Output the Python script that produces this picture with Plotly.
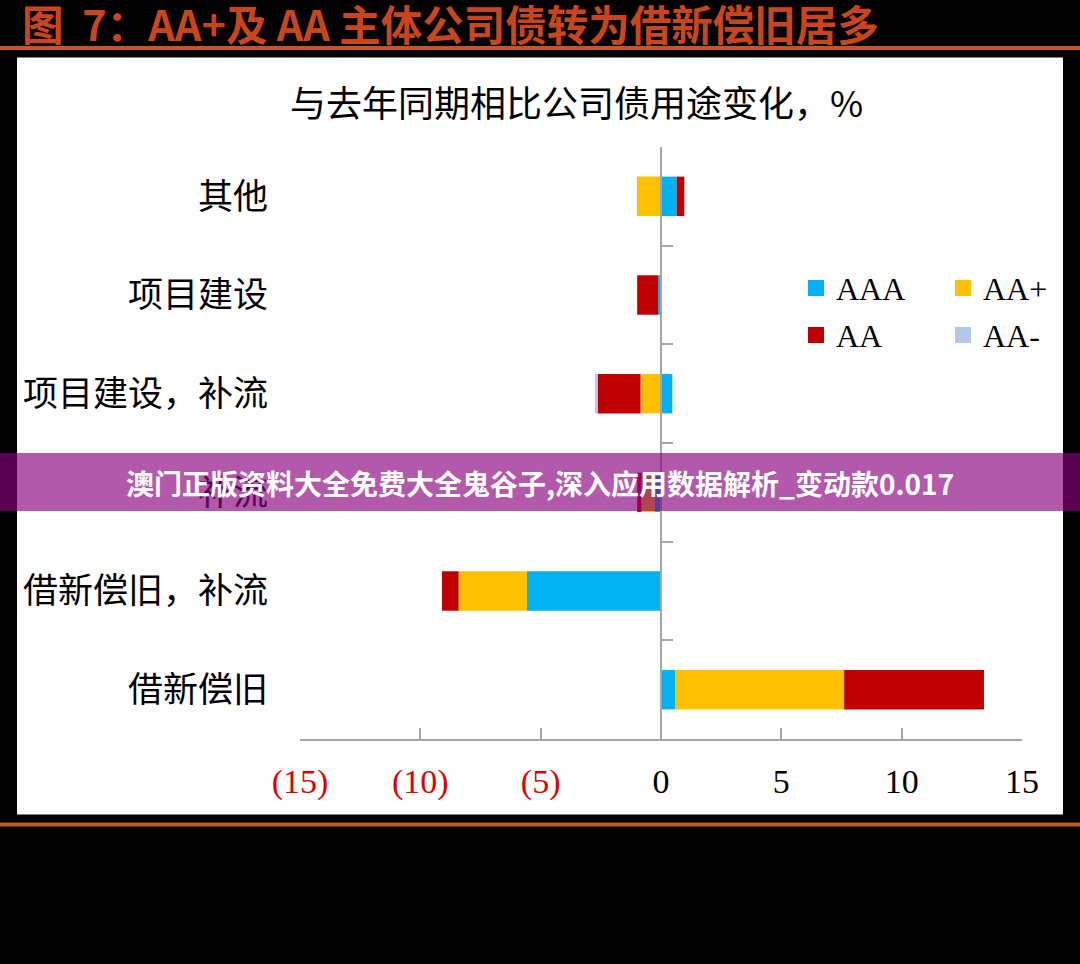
import plotly.graph_objects as go

# ---- data ----
categories = ["其他", "项目建设", "项目建设，补流", "补流", "借新偿旧，补流", "借新偿旧"]
aaa = [0.65, -0.12, 0.47, -0.25, -5.57, 0.60]
aa_plus = [-1.00, 0.0, -0.85, -0.56, -2.84, 7.01]
aa = [0.32, -0.87, -1.78, -0.18, -0.69, 5.81]
aa_minus = [0.0, 0.0, -0.11, 0.0, 0.0, 0.0]
series_names = ["AAA", "AA+", "AA", "AA-"]
series_colors = ["#00b0f0", "#ffc000", "#c00000", "#b4c7e7"]
xtick_vals = [-15, -10, -5, 0, 5, 10, 15]
xtick_text = ["(15)", "(10)", "(5)", "0", "5", "10", "15"]
boundary_vals = [0.5, 1.5, 2.5, 3.5, 4.5]

W, H = 1080, 964
L, R, T, B = 300, 1022, 146.6, 739.4


def px(xp):
    return (xp - L) / (R - L)


def py(yp):
    return (B - yp) / (B - T)


fig = go.Figure()
values = [aaa, aa_plus, aa, aa_minus]
for name, vals, col in zip(series_names, values, series_colors):
    fig.add_trace(go.Bar(
        y=categories, x=vals, orientation="h", name=name,
        marker=dict(color=col, line=dict(width=0)), width=0.4,
        showlegend=False,
    ))

# legend entries (square markers)
legend_ids = ["legend", "legend", "legend2", "legend2"]
for name, col, lg in zip(series_names, series_colors, legend_ids):
    fig.add_trace(go.Scatter(
        x=[None], y=[None], mode="markers", name=name, legend=lg,
        marker=dict(symbol="square", size=16, color=col),
    ))

# helper trace for the zero-line axis
fig.add_trace(go.Scatter(x=[None], y=[None], yaxis="y2", showlegend=False, hoverinfo="skip"))

red = "#e00000"
ticktext = [f'<span style="color:{red}">{t}</span>' if v < 0 else t
            for v, t in zip(xtick_vals, xtick_text)]

serif = "Liberation Serif, Times New Roman, serif"
cjk = "Noto Sans CJK SC"

legend_common = dict(
    orientation="h", xanchor="left", yanchor="middle",
    bgcolor="rgba(0,0,0,0)", font=dict(family=serif, size=32, color="black"),
    entrywidth=102, entrywidthmode="pixels", itemclick=False, itemdoubleclick=False,
)

fig.update_layout(
    width=W, height=H,
    paper_bgcolor="black", plot_bgcolor="white",
    margin=dict(l=L, r=W - R, t=T, b=H - B, pad=0, autoexpand=False),
    barmode="relative",
    xaxis=dict(
        range=[-15, 15], tickmode="array", tickvals=xtick_vals, ticktext=ticktext,
        ticks="inside", ticklen=11, tickwidth=2, tickcolor="#a6a6a6",
        showline=True, linecolor="#a6a6a6", linewidth=2,
        showgrid=False, zeroline=False,
        tickfont=dict(family=serif, size=34, color="black"),
        ticklabelstandoff=11,
    ),
    yaxis=dict(
        type="category", categoryorder="array", categoryarray=categories,
        range=[5.5, -0.5], showgrid=False, zeroline=False, showline=False,
        ticks="", tickfont=dict(family=cjk, size=35, color="black"),
        ticklabelstandoff=31,
    ),
    yaxis2=dict(
        overlaying="y", anchor="free", position=0.5, side="right",
        range=[5.5, -0.5], tickmode="array", tickvals=boundary_vals,
        ticks="outside", ticklen=11, tickwidth=2, tickcolor="#a6a6a6",
        showline=True, linecolor="#a6a6a6", linewidth=2,
        showticklabels=False, showgrid=False, zeroline=False,
    ),
    legend=dict(x=px(796), y=py(288), **legend_common),
    legend2=dict(x=px(796), y=py(335), **legend_common),
    showlegend=True,
)

shapes = [
    # white panel
    dict(type="rect", xref="paper", yref="paper", x0=px(17), x1=px(1063), y0=py(815), y1=py(57),
         fillcolor="white", line=dict(width=0), layer="below"),
    # top rule
    dict(type="line", xref="paper", yref="paper", x0=px(0), x1=px(1080), y0=py(47.5), y1=py(47.5),
         line=dict(color="#c8561a", width=4), layer="above"),
    # bottom rule
    dict(type="line", xref="paper", yref="paper", x0=px(0), x1=px(1080), y0=py(825), y1=py(825),
         line=dict(color="#b95f23", width=4), layer="above"),
    # banner overlay
    dict(type="rect", xref="paper", yref="paper", x0=px(0), x1=px(1080), y0=py(511), y1=py(453),
         fillcolor="rgba(136,0,127,0.65)", line=dict(width=0), layer="above"),
]
fig.update_layout(shapes=shapes)

annotations = [
    dict(text="<b>图  7：AA+及 AA 主体公司债转为借新偿旧居多</b>", xref="paper", yref="paper",
         x=px(20), y=py(22.5), xanchor="left", yanchor="middle", showarrow=False,
         font=dict(family=cjk, size=41.5, color="#c9461c")),
    dict(text="与去年同期相比公司债用途变化，%", xref="paper", yref="paper",
         x=px(576), y=py(101), xanchor="center", yanchor="middle", showarrow=False,
         font=dict(family=cjk, size=36, color="black")),
    dict(text="<b>澳门正版资料大全免费大全鬼谷子,深入应用数据解析_变动款0.017</b>", xref="paper", yref="paper",
         x=px(540), y=py(483), xanchor="center", yanchor="middle", showarrow=False,
         font=dict(family=cjk, size=28, color="white")),
]
fig.update_layout(annotations=annotations)

fig.write_html(
    "out.html",
    config={"displayModeBar": False},
    post_script="document.body.style.margin='0';document.body.style.overflow='hidden';",
)
